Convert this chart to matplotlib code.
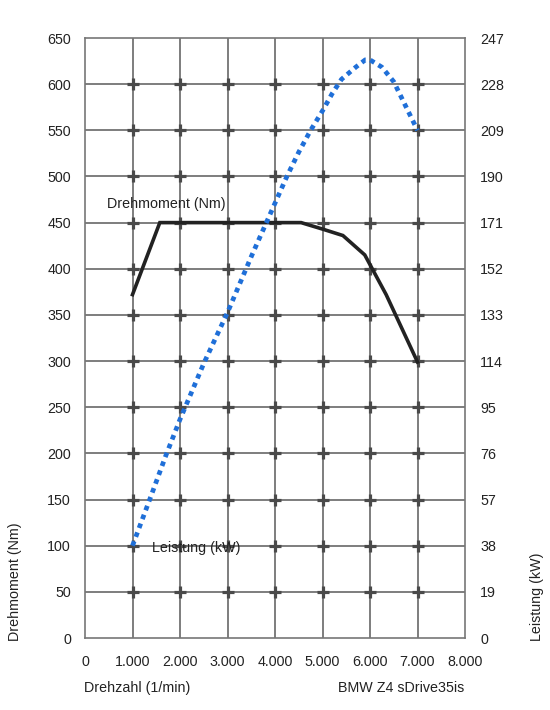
import matplotlib
matplotlib.use("Agg")
import matplotlib.pyplot as plt

plt.rcParams['font.family'] = ['Liberation Sans', 'DejaVu Sans']

# Data
torque_rpm = [1000, 1575, 4550, 5000, 5430, 5890, 6340, 7000]
torque_nm = [372, 450, 450, 443, 436, 415, 372, 299]

power_rpm = [1000, 1400, 1700, 2000, 2500, 3000, 3500, 4000, 4250, 4500, 4750, 5000, 5200, 5400, 5700, 5900, 6000, 6250, 6500, 6700, 7000]
power_kw = [38, 59, 75, 90, 113, 134, 157, 179, 190, 200, 209, 217, 224, 230, 235, 238, 238, 235, 229, 221, 209]

x_ticks = [0, 1000, 2000, 3000, 4000, 5000, 6000, 7000, 8000]
x_labels = ["0", "1.000", "2.000", "3.000", "4.000", "5.000", "6.000", "7.000", "8.000"]
left_ticks = [0, 50, 100, 150, 200, 250, 300, 350, 400, 450, 500, 550, 600, 650]
right_ticks = [0, 19, 38, 57, 76, 95, 114, 133, 152, 171, 190, 209, 228, 247]

fs = 10.3
fig = plt.figure(figsize=(5.5, 7.1), dpi=100)
ax = fig.add_axes([85/550, 1-638/710, 380/550, 600/710])
ax.set_xlim(0, 8000)
ax.set_ylim(0, 650)
ax.set_xticks(x_ticks)
ax.set_xticklabels(x_labels)
ax.set_yticks(left_ticks)
ax.tick_params(length=0, labelsize=fs, colors='#222222')
ax.tick_params(axis='y', pad=10)
ax.tick_params(axis='x', pad=12)
for s in ax.spines.values():
    s.set_color('#777777')
    s.set_linewidth(1.2)

grid_color = '#5a5a5a'
for xv in x_ticks[1:-1]:
    ax.axvline(xv, color=grid_color, lw=1.1, zorder=1)
for yv in left_ticks[1:-1]:
    ax.axhline(yv, color=grid_color, lw=1.1, zorder=1)
# crosses at intersections
cx = [xv for xv in x_ticks[1:-1] for yv in left_ticks[1:-1]]
cy = [yv for xv in x_ticks[1:-1] for yv in left_ticks[1:-1]]
ax.plot(cx, cy, linestyle='none', marker='+', markersize=8, mew=2.3,
        color='#4a4a4a', zorder=2)

ax.plot(torque_rpm, torque_nm, color='#222222', lw=2.6, zorder=4,
        solid_joinstyle='miter')

ax2 = ax.twinx()
ax2.set_ylim(0, 247)
ax2.set_yticks(right_ticks)
ax2.tick_params(length=0, labelsize=fs, colors='#222222', pad=11)
for s in ax2.spines.values():
    s.set_visible(False)
ax2.plot(power_rpm, power_kw, color='#1f6fd8', lw=3.4, linestyle=(0, (1, 1.0)),
         dash_capstyle='butt', zorder=5)

ax.text(470, 470, "Drehmoment (Nm)", fontsize=fs, color='#222222',
        ha='left', va='center')
ax.text(1400, 97, "Leistung (kW)", fontsize=fs, color='#222222',
        ha='left', va='center')

fig.text(84/550, 1-688/710, "Drehzahl (1/min)", fontsize=fs, color='#222222',
         ha='left', va='center')
fig.text(464/550, 1-688/710, "BMW Z4 sDrive35is", fontsize=fs, color='#222222',
         ha='right', va='center')
fig.text(15/550, 1-641/710, "Drehmoment (Nm)", fontsize=fs, color='#222222',
         rotation=90, ha='center', va='bottom')
fig.text(537/550, 1-641/710, "Leistung (kW)", fontsize=fs, color='#222222',
         rotation=90, ha='center', va='bottom')

fig.savefig("out.png", dpi=100, facecolor='white')
